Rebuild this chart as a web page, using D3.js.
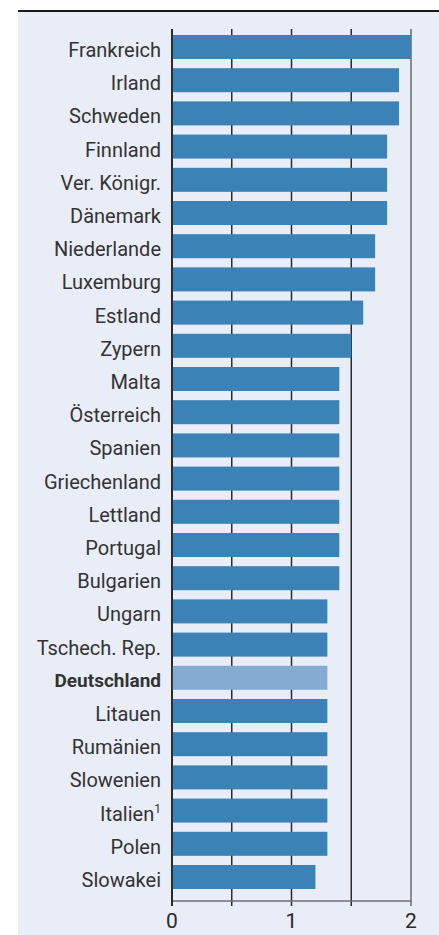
<!DOCTYPE html>
<html>
<head>
<meta charset="utf-8">
<script src="https://cdn.jsdelivr.net/npm/d3@7"></script>
<style>
  body { margin: 0; background: #fff; }
  svg { display: block; }
</style>
</head>
<body>
<div id="chart"></div>
<script>
var countries = ["Frankreich", "Irland", "Schweden", "Finnland", "Ver. Königr.", "Dänemark",
    "Niederlande", "Luxemburg", "Estland", "Zypern", "Malta", "Österreich", "Spanien",
    "Griechenland", "Lettland", "Portugal", "Bulgarien", "Ungarn", "Tschech. Rep.",
    "Deutschland", "Litauen", "Rumänien", "Slowenien", "Italien", "Polen", "Slowakei"];
var values = [2.0, 1.9, 1.9, 1.8, 1.8, 1.8, 1.7, 1.7, 1.6, 1.5, 1.4, 1.4, 1.4,
    1.4, 1.4, 1.4, 1.4, 1.3, 1.3, 1.3, 1.3, 1.3, 1.3, 1.3, 1.3, 1.2];
var footnotes = {"Italien": "1"};
var highlight = "Deutschland";
var xTicks = [0, 0.5, 1, 1.5, 2];
var xTickLabels = [0, 1, 2];

var width = 439, height = 935;
var gridTop = 29, axisY = 901;

var data = countries.map(function(c, i) { return {name: c, value: values[i]}; });

var svg = d3.select("#chart").append("svg")
    .attr("width", width)
    .attr("height", height);

// panel background
svg.append("rect")
    .attr("x", 18).attr("y", 12)
    .attr("width", width - 18).attr("height", height - 12)
    .attr("fill", "#e9edf8");

svg.append("line")
    .attr("x1", 18).attr("x2", width)
    .attr("y1", 11).attr("y2", 11)
    .attr("stroke", "#1a1a1a").attr("stroke-width", 2);

var x = d3.scaleLinear()
    .domain([0, 2])
    .range([172, 411]);

var y = d3.scaleBand()
    .domain(countries)
    .range([35, 889])
    .paddingInner(0.277)
    .paddingOuter(0);

// gridlines
svg.append("g")
    .selectAll("line")
    .data(xTicks)
    .enter()
    .append("line")
    .attr("x1", function(d) { return x(d); })
    .attr("x2", function(d) { return x(d); })
    .attr("y1", gridTop)
    .attr("y2", axisY + 5)
    .attr("stroke", function(d) { return d === 2 ? "#8a8a90" : "#2b2b2b"; })
    .attr("stroke-width", function(d) { return d === 2 ? 2 : 1.5; });

// bars
svg.append("g")
    .selectAll("rect")
    .data(data)
    .enter()
    .append("rect")
    .attr("x", x(0))
    .attr("y", function(d) { return y(d.name); })
    .attr("width", function(d) { return x(d.value) - x(0); })
    .attr("height", y.bandwidth())
    .attr("fill", function(d) { return d.name === highlight ? "#86abd3" : "#3b82b6"; });

// x axis line
svg.append("line")
    .attr("x1", x(0)).attr("x2", x(2))
    .attr("y1", axisY).attr("y2", axisY)
    .attr("stroke", "#6e6e74").attr("stroke-width", 1.5);

// left axis line
svg.append("line")
    .attr("x1", x(0)).attr("x2", x(0))
    .attr("y1", gridTop).attr("y2", axisY + 5)
    .attr("stroke", "#1a1a1a").attr("stroke-width", 1.5);

// x tick labels
svg.append("g")
    .selectAll("text")
    .data(xTickLabels)
    .enter()
    .append("text")
    .attr("x", function(d) { return x(d); })
    .attr("y", axisY + 27)
    .attr("text-anchor", "middle")
    .attr("font-family", "Roboto, sans-serif")
    .attr("font-size", 21)
    .attr("fill", "#2a2a2a")
    .text(function(d) { return d; });

// category labels
var labels = svg.append("g")
    .selectAll("text")
    .data(data)
    .enter()
    .append("text")
    .attr("x", x(0) - 11)
    .attr("y", function(d) { return y(d.name) + y.bandwidth() / 2; })
    .attr("dy", "0.5em")
    .attr("text-anchor", "end")
    .attr("font-family", "Roboto, sans-serif")
    .attr("font-size", function(d) { return d.name === highlight ? 19 : 20; })
    .attr("font-weight", function(d) { return d.name === highlight ? "bold" : "normal"; })
    .attr("fill", "#333");

labels.append("tspan").text(function(d) { return d.name; });
labels.filter(function(d) { return footnotes[d.name]; })
    .append("tspan")
    .attr("font-size", 12)
    .attr("dy", "-0.6em")
    .text(function(d) { return footnotes[d.name]; });
</script>
</body>
</html>
